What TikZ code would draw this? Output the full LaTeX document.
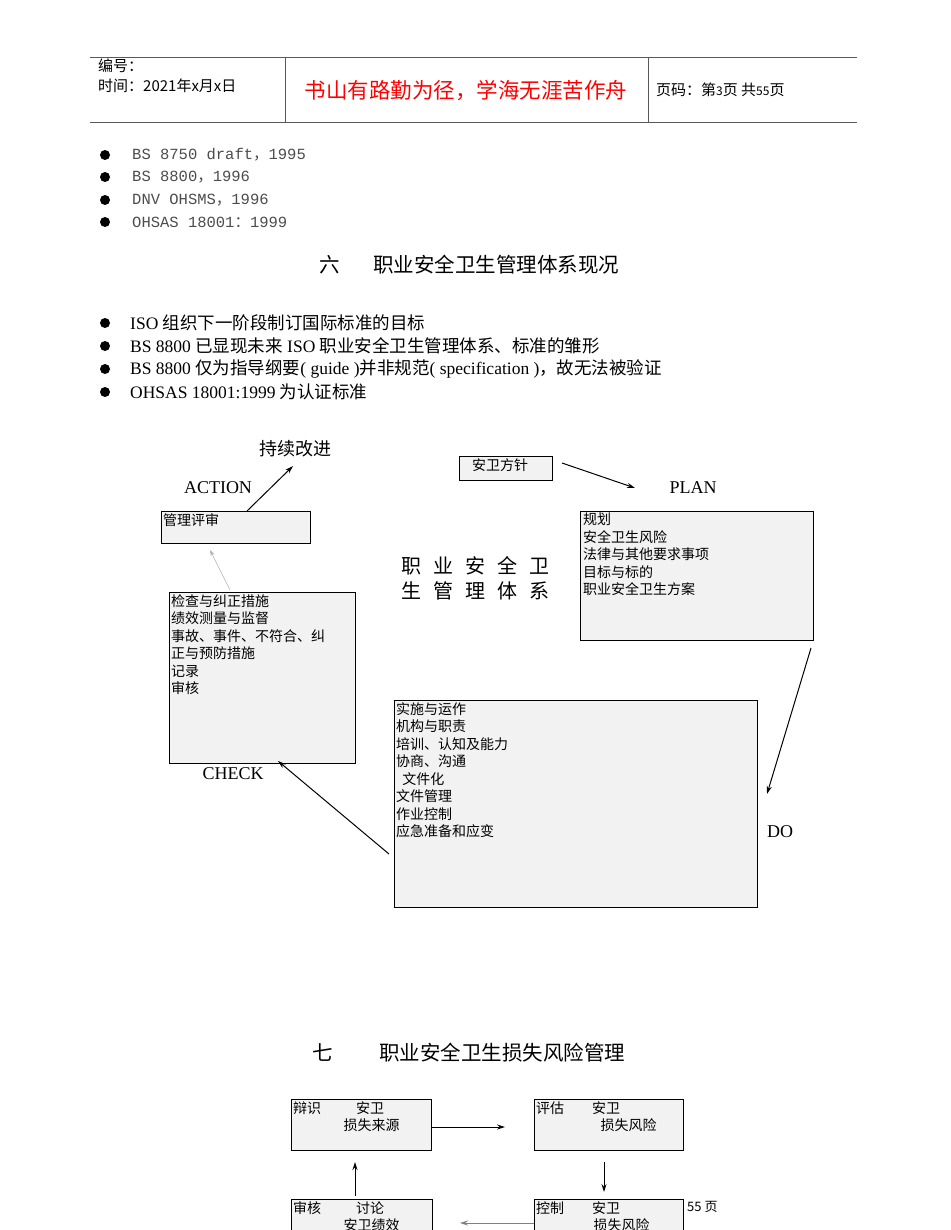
\documentclass[tikz,border=0pt]{standalone}
\usepackage{fontspec}
\setmainfont{Liberation Serif}
\newfontfamily\cjk{Noto Sans CJK SC}
\newfontfamily\monof{Liberation Mono}
\usetikzlibrary{arrows.meta}
\definecolor{boxfill}{HTML}{F2F2F2}
\begin{document}
\begin{tikzpicture}[x=1pt,y=-1pt,
 bx/.style={draw,line width=1pt,fill=boxfill},
 tx/.style={inner sep=0pt,anchor=north west,align=left,font=\cjk\fontsize{14}{17.5}\selectfont},
 lab/.style={inner sep=0pt,font=\fontsize{18}{20}\selectfont},
 ar/.style={-{Stealth[length=8pt,width=5pt]},line width=1pt},
 dot/.style={circle,fill,inner sep=0pt,minimum size=10pt}]
\useasboundingbox (0,0) rectangle (950,1230);
\clip (0,0) rectangle (950,1230);
% header
\draw[line width=0.7pt,gray!70!black] (90,57) -- (857,57) (90,122) -- (857,122) (285,57) -- (285,122) (648,57) -- (648,122);
\node[tx,font=\cjk\fontsize{15}{20}\selectfont] (hd1) at (98,59) {编号：\\时间：2021年x月x日};
\node[inner sep=0pt,text=red,font=\cjk\fontsize{21.5}{24}\selectfont] (hd2) at (466,91) {书山有路勤为径，学海无涯苦作舟};
\node[inner sep=0pt,anchor=west,font=\cjk\fontsize{15}{18}\selectfont] (hd3) at (656,90) {页码：第{\fontsize{12}{12}\selectfont 3}页\ 共{\fontsize{12}{12}\selectfont 55}页};
% bullets 1
\foreach \y/\t [count=\i] in {155/{BS 8750 draft{\cjk ，}1995},177/{BS 8800{\cjk ，}1996},200/{DNV OHSMS{\cjk ，}1996},222/{OHSAS 18001{\cjk ：}1999}}{
 \node[dot] (ba\i) at (105,\y) {};
 \node[inner sep=0pt,anchor=west,text=black!70,font=\monof\fontsize{15.5}{17}\selectfont] (bt\i) at (132,\y) {\t};}
\node[inner sep=0pt,font=\cjk\fontsize{20.5}{22}\selectfont] (h6a) at (330,265) {六};
\node[inner sep=0pt,anchor=west,font=\cjk\fontsize{20.5}{22}\selectfont] (h6b) at (373,265) {职业安全卫生管理体系现况};
\foreach \y/\t [count=\i] in {323/{ISO {\cjk 组织下一阶段制订国际标准的目标}},346/{BS 8800 {\cjk 已显现未来} ISO {\cjk 职业安全卫生管理体系、标准的雏形}},369/{BS 8800 {\cjk 仅为指导纲要}( guide ){\cjk 并非规范}( specification ){\cjk ，故无法被验证}},392/{OHSAS 18001:1999 {\cjk 为认证标准}}}{
 \node[dot] (bb\i) at (105,\y) {};
 \node[inner sep=0pt,anchor=west,font=\fontsize{17.5}{20}\selectfont] (bu\i) at (130,\y) {\t};}
% diagram
\node[lab,font=\cjk\fontsize{18}{20}\selectfont] (cx) at (295,449) {持续改进};
\node[lab] (act) at (218,488) {ACTION};
\node[lab] (plan) at (693,488) {PLAN};
\node[lab] (chk) at (233,774) {CHECK};
\node[lab] (do) at (780,832) {DO};
\draw[bx] (459,456) rectangle (552,480);
\node[tx] (fz) at (472,458) {安卫方针};
\draw[bx] (161,511) rectangle (310,543);
\node[tx] (gl) at (163,513) {管理评审};
\draw[bx] (580,511) rectangle (813,640);
\node[tx] (gh) at (583,513) {规划\\安全卫生风险\\法律与其他要求事项\\目标与标的\\职业安全卫生方案};
\node[inner sep=0pt,align=center,font=\cjk\fontsize{20}{25}\selectfont] (ct) at (475,578) {职\hspace{0.6em}业\hspace{0.6em}安\hspace{0.6em}全\hspace{0.6em}卫\\生\hspace{0.6em}管\hspace{0.6em}理\hspace{0.6em}体\hspace{0.6em}系};
\draw[bx] (169,592) rectangle (355,763);
\node[tx] (jc) at (171,594) {检查与纠正措施\\绩效测量与监督\\事故、事件、不符合、纠\\正与预防措施\\记录\\审核};
\draw[bx] (394,700) rectangle (757,907);
\node[tx] (ss) at (396,702) {实施与运作\\机构与职责\\培训、认知及能力\\协商、沟通\\\ \ 文件化\\文件管理\\作业控制\\应急准备和应变};
\coordinate (a1) at (247,511); \coordinate (a2) at (293,466);
\coordinate (b1) at (562,463); \coordinate (b2) at (635,488);
\coordinate (c1) at (811,648); \coordinate (c2) at (767,794);
\coordinate (d1) at (389,854); \coordinate (d2) at (278,761);
\coordinate (e1) at (230,590); \coordinate (e2) at (210,550);
\draw[ar] (a1) -- (a2);
\draw[ar] (b1) -- (b2);
\draw[ar] (c1) -- (c2);
\draw[ar] (d1) -- (d2);
\draw[-{Stealth[length=6pt,width=4pt]},gray!60,line width=0.5pt] (e1) -- (e2);
% section 7
\node[inner sep=0pt,font=\cjk\fontsize{20.5}{22}\selectfont] (h7a) at (323,1053) {七};
\node[inner sep=0pt,anchor=west,font=\cjk\fontsize{20.5}{22}\selectfont] (h7b) at (379,1053) {职业安全卫生损失风险管理};
\draw[bx] (291,1099) rectangle (431,1150);
\node[tx] (k1) at (293,1101) {辩识\hspace{2.5em}安卫\\\hspace{3.6em}损失来源};
\draw[bx] (534,1099) rectangle (683,1150);
\node[tx] (k2) at (536,1101) {评估\hspace{2em}安卫\\\hspace{4.6em}损失风险};
\draw[bx] (291,1199) rectangle (432,1260);
\node[tx] (k3) at (293,1201) {审核\hspace{2.5em}讨论\\\hspace{3.6em}安卫绩效};
\draw[bx] (534,1199) rectangle (683,1260);
\node[tx] (k4) at (536,1201) {控制\hspace{2em}安卫\\\hspace{4.1em}损失风险};
\node[inner sep=0pt,anchor=west,font=\cjk\fontsize{13}{14}\selectfont] (pg) at (687,1207) {55\ 页};
\draw[ar] (431,1127) -- (505,1127);
\draw[ar] (604,1162) -- (604,1192);
\draw[ar] (355,1196) -- (355,1162);
\draw[ar,gray] (534,1223) -- (460,1223);
\end{tikzpicture}
\end{document}
